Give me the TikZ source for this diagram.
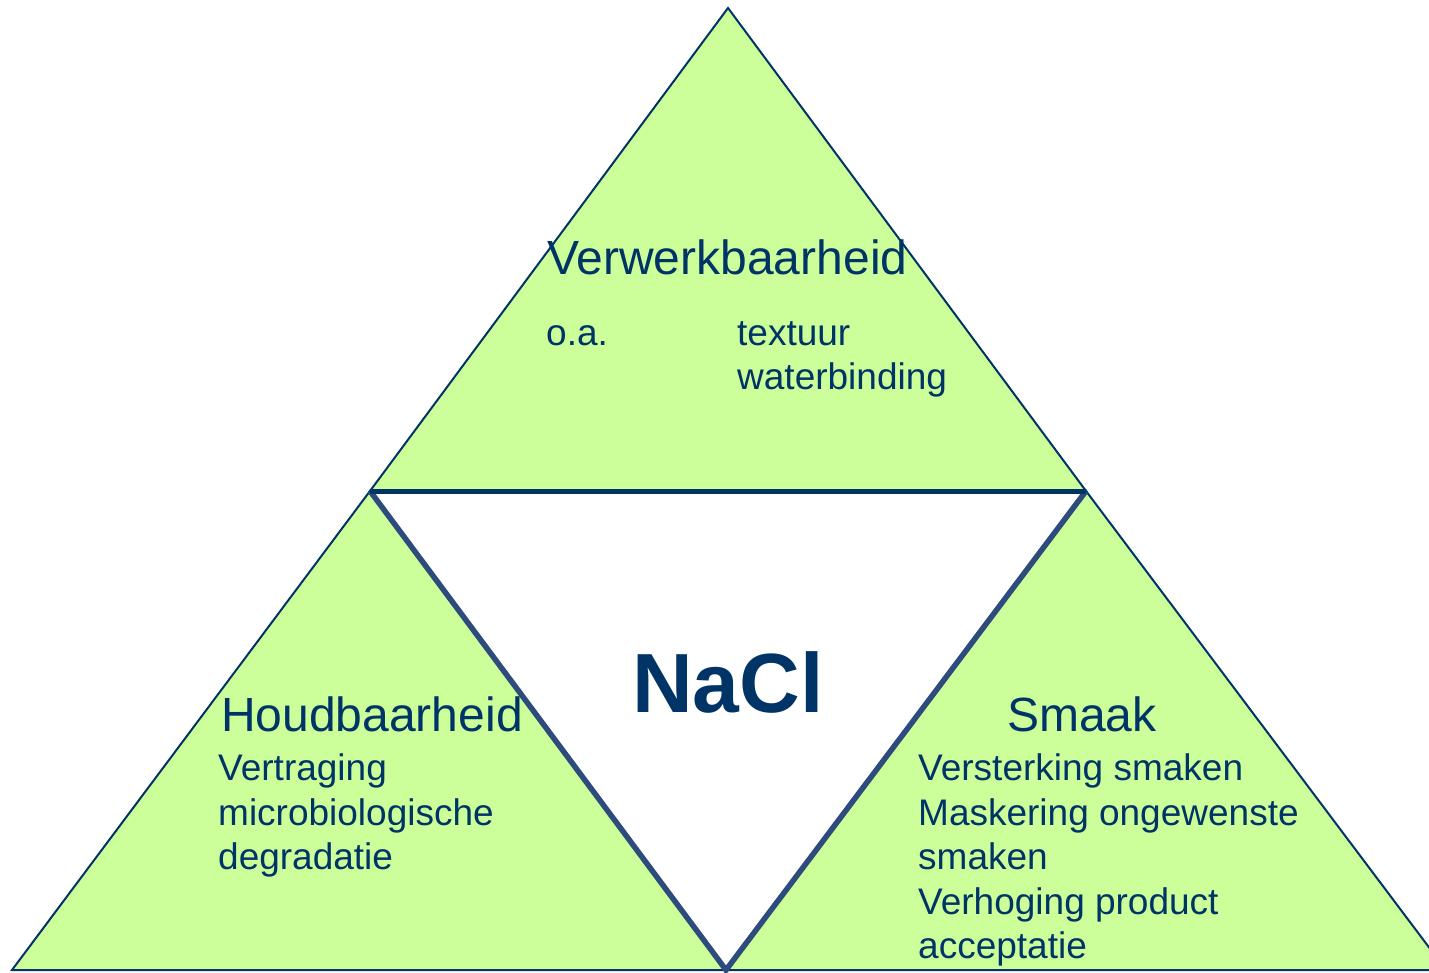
\documentclass[tikz,border=0pt]{standalone}
\usepackage{fontspec}
\setmainfont{Liberation Sans}
\definecolor{tgreen}{RGB}{204,255,153}
\definecolor{tblue}{RGB}{0,51,102}
\definecolor{tedge}{RGB}{45,75,125}
\begin{document}
\begin{tikzpicture}[x=1pt,y=-1pt,
  tri/.style={fill=tgreen,draw=tblue,line width=2pt,line join=miter},
  inner/.style={draw=tedge,line width=5.5pt},
  topedge/.style={draw=tblue,line width=5pt},
  head/.style={anchor=base west,inner sep=0pt,text=tblue,font=\fontsize{48}{52}\selectfont},
  body/.style={anchor=base west,inner sep=0pt,text=tblue,font=\fontsize{37}{44}\selectfont},
  big/.style={anchor=base west,inner sep=0pt,text=tblue,font=\fontsize{84}{90}\selectfont\bfseries}]
\useasboundingbox (0,0) rectangle (1429,973);
\clip (0,0) rectangle (1429,973);
\coordinate (T) at (728,8);
\coordinate (L) at (370,491);
\coordinate (R) at (1086,491);
\coordinate (BL) at (12,970);
\coordinate (BM) at (726,970);
\coordinate (BR) at (1446,970);
% triangles
\path[tri] (T) -- (L) -- (R) -- cycle;
\path[tri] (L) -- (BL) -- (BM) -- cycle;
\path[tri] (R) -- (BM) -- (BR) -- cycle;
% inner triangle edges
\draw[inner] (L) -- (BM) -- (R);
\draw[topedge] (L) -- (R);
% texts
\node[head] (verw) at (547,275) {Verwerkbaarheid};
\node[body] (oa) at (546,345) {o.a.};
\node[body] (text) at (737,345) {textuur};
\node[body] (water) at (737,389) {waterbinding};
\node[big] (nacl) at (632,712) {NaCl};
\node[head] (houd) at (221,731) {Houdbaarheid};
\node[body] (h1) at (218,780) {Vertraging};
\node[body] (h2) at (218,825) {microbiologische};
\node[body] (h3) at (218,869) {degradatie};
\node[head] (smaak) at (1007,731) {Smaak};
\node[body] (s1) at (918,780) {Versterking smaken};
\node[body] (s2) at (918,825) {Maskering ongewenste};
\node[body] (s3) at (918,869) {smaken};
\node[body] (s4) at (918,914) {Verhoging product};
\node[body] (s5) at (918,958) {acceptatie};
\end{tikzpicture}
\end{document}
